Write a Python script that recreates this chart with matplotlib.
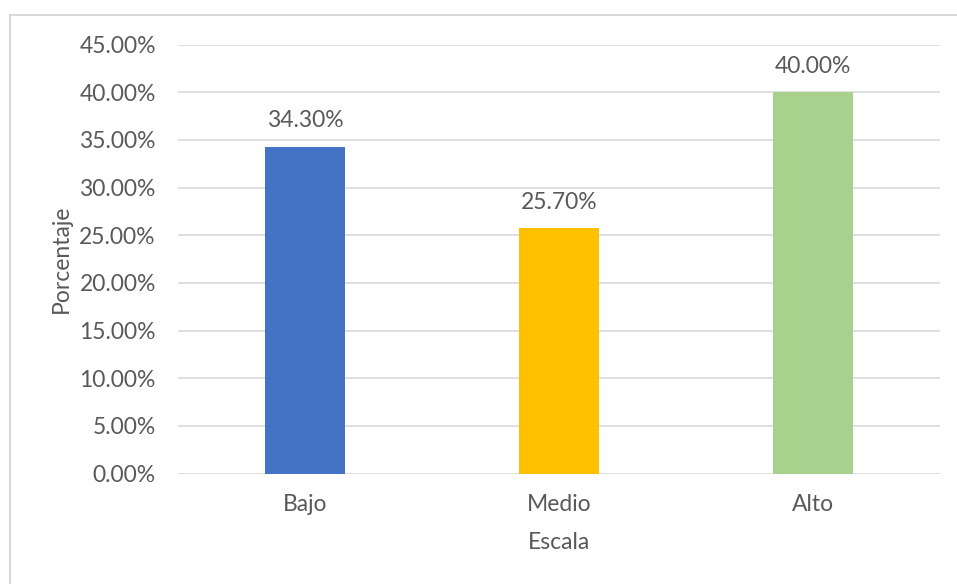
import matplotlib.pyplot as plt
from matplotlib.patches import Rectangle
from matplotlib.ticker import PercentFormatter

categories = ["Bajo", "Medio", "Alto"]
values = [34.30, 25.70, 40.00]
colors = ["#4472C4", "#FFC000", "#A9D18E"]

text_color = "#595959"
grid_color = "#D9D9D9"

plt.rcParams["font.family"] = ["Lato", "DejaVu Sans"]
plt.rc("font", size=16.5)

fig = plt.figure(figsize=(9.57, 5.84), dpi=100)
ax = fig.add_axes([178 / 957, 1 - 473.5 / 584, (940 - 178) / 957, (473.5 - 44.5) / 584])

# chart frame, runs off the right and bottom edges
fig.patches.append(Rectangle((10 / 957, -0.1), 1.2, 1 - 15 / 584 + 0.1,
                             transform=fig.transFigure, fill=False,
                             edgecolor=grid_color, linewidth=1.5))

x = range(len(categories))
bars = ax.bar(x, values, width=0.315, color=colors, zorder=3)

for bar, v in zip(bars, values):
    ax.annotate(f"{v:.2f}%", (bar.get_x() + bar.get_width() / 2, v),
                xytext=(0, 11), textcoords="offset points",
                ha="center", va="bottom", color=text_color)

ax.set_xlim(-0.5, 2.5)
ax.set_ylim(0, 45)
ax.set_yticks(range(0, 46, 5))
ax.yaxis.set_major_formatter(PercentFormatter(decimals=2))
ax.set_xticks(list(x))
ax.set_xticklabels(categories)

ax.grid(axis="y", color=grid_color, linewidth=1.2, zorder=0)
for s in ax.spines.values():
    s.set_visible(False)
ax.tick_params(axis="both", length=0, colors=text_color)
ax.tick_params(axis="y", pad=16)
ax.tick_params(axis="x", pad=15)

ax.set_xlabel("Escala", color=text_color, labelpad=12)
ax.set_ylabel("Porcentaje", color=text_color, labelpad=5)

fig.savefig("out.png", dpi=100)
